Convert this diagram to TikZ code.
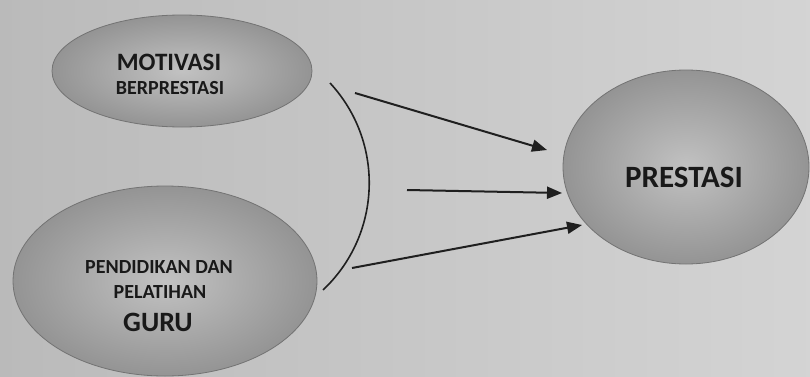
\documentclass[tikz,border=0pt]{standalone}
\usepackage{fontspec}
\setmainfont{Carlito}
\usetikzlibrary{shapes.geometric,arrows.meta}
\tikzset{
  oval/.style={ellipse, draw=black!55, line width=0.8pt, inner color=black!24, outer color=black!42},
  lbl/.style={font=\bfseries, text=black!90, inner sep=0pt, align=center},
  flow/.style={line width=2pt, draw=black!88, -{Triangle[length=15pt,width=12pt]}},
  bracket/.style={line width=1.6pt, draw=black!88}
}
\begin{document}
\begin{tikzpicture}[x=1pt,y=1pt]
  \shade[left color=black!27, right color=black!17] (0,0) rectangle (810,376);
  \useasboundingbox (0,0) rectangle (810,376);
  % ellipses
  \node[oval, minimum width=260pt, minimum height=112pt] (mot) at (182,305) {};
  \node[oval, minimum width=304pt, minimum height=190pt] (pen) at (165,95) {};
  \node[oval, minimum width=246pt, minimum height=194pt] (pre) at (686,209) {};
  % texts
  \node[lbl, font=\bfseries\fontsize{25}{30}\selectfont] (motA) at (169,314) {MOTIVASI};
  \node[lbl, font=\bfseries\fontsize{20}{24}\selectfont] (motB) at (170,288) {BERPRESTASI};
  \node[lbl, font=\bfseries\fontsize{20}{24}\selectfont] (penA) at (159,109) {PENDIDIKAN DAN};
  \node[lbl, font=\bfseries\fontsize{20}{24}\selectfont] (penB) at (160,84) {PELATIHAN};
  \node[lbl, font=\bfseries\fontsize{28}{32}\selectfont] (penC) at (158,54) {GURU};
  \node[lbl, font=\bfseries\fontsize{31}{36}\selectfont] (preT) at (684,199) {PRESTASI};
  % bracket arc (circle through the three reference points)
  \coordinate (arcT) at (330,293);
  \draw[bracket] (arcT) arc[start angle=42.85, end angle=-46.7, radius=147];
  % arrows
  \coordinate (s1) at (355,283);
  \coordinate (e1) at (547,226);
  \coordinate (s2) at (407,186);
  \coordinate (e2) at (562,183);
  \coordinate (s3) at (352,108);
  \coordinate (e3) at (582,151);
  \draw[flow] (s1) -- (e1);
  \draw[flow] (s2) -- (e2);
  \draw[flow] (s3) -- (e3);
\end{tikzpicture}
\end{document}
